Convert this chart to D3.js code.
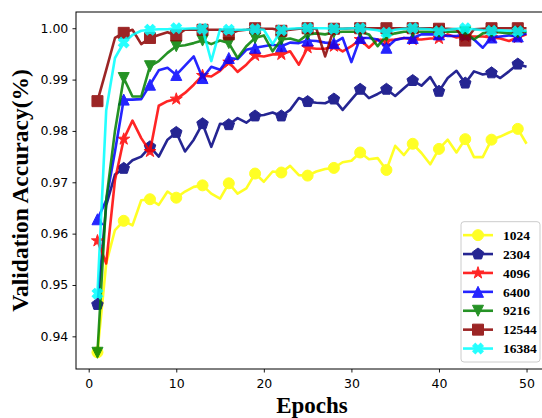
<!DOCTYPE html>
<html>
<head>
<meta charset="utf-8">
<script src="https://cdn.jsdelivr.net/npm/d3@7"></script>
<style>
  html, body { margin:0; padding:0; background:#fff; }
  svg { display:block; }
  .tick text { font-family: "DejaVu Sans", sans-serif; font-size: 12.5px; fill:#000; }
  .axis-label { font-family: "Liberation Serif", "Times New Roman", serif; font-weight: bold; fill:#000; }
  .legend text { font-family: "Liberation Serif", "Times New Roman", serif; font-weight: bold; font-size: 13.5px; fill:#000; }
</style>
</head>
<body>
<div id="chart"></div>
<script>
// epochs 1..50
const epochs = d3.range(1, 51);
const seriesNames = ['1024', '2304', '4096', '6400', '9216', '12544', '16384'];
const xTicks = [0, 10, 20, 30, 40, 50];
const yTicks = [0.94, 0.95, 0.96, 0.97, 0.98, 0.99, 1.00];

const acc1024 = [0.9369, 0.9542, 0.9607, 0.9625, 0.9616, 0.9665, 0.9667, 0.9656, 0.9682, 0.9670,
                 0.9682, 0.9691, 0.9694, 0.9678, 0.9668, 0.9698, 0.9678, 0.9688, 0.9717, 0.9701,
                 0.9721, 0.9719, 0.9732, 0.9714, 0.9713, 0.9721, 0.9726, 0.9728, 0.9739, 0.9742,
                 0.9758, 0.9745, 0.9747, 0.9724, 0.9771, 0.9753, 0.9775, 0.9757, 0.9735, 0.9765,
                 0.9783, 0.9758, 0.9784, 0.9749, 0.9749, 0.9783, 0.9789, 0.9797, 0.9804, 0.9775];
const acc2304 = [0.9462, 0.9655, 0.9715, 0.9727, 0.9743, 0.9750, 0.9769, 0.9750, 0.9783, 0.9797,
                 0.9760, 0.9783, 0.9814, 0.9769, 0.9814, 0.9812, 0.9825, 0.9816, 0.9829, 0.9831,
                 0.9836, 0.9829, 0.9841, 0.9864, 0.9857, 0.9855, 0.9854, 0.9862, 0.9841, 0.9861,
                 0.9881, 0.9864, 0.9872, 0.9881, 0.9868, 0.9883, 0.9898, 0.9888, 0.9905, 0.9877,
                 0.9903, 0.9917, 0.9893, 0.9916, 0.9910, 0.9913, 0.9903, 0.9916, 0.9930, 0.9925];
const acc4096 = [0.9586, 0.9542, 0.9704, 0.9784, 0.9820, 0.9786, 0.9760, 0.9849, 0.9858, 0.9862,
                 0.9874, 0.9890, 0.9908, 0.9906, 0.9917, 0.9934, 0.9915, 0.9929, 0.9947, 0.9945,
                 0.9949, 0.9949, 0.9955, 0.9929, 0.9962, 0.9960, 0.9960, 0.9965, 0.9955, 0.9965,
                 0.9978, 0.9962, 0.9978, 0.9975, 0.9978, 0.9981, 0.9978, 0.9978, 0.9980, 0.9980,
                 0.9988, 0.9982, 0.9984, 0.9984, 0.9984, 0.9982, 0.9980, 0.9975, 0.9982, 0.9988];
const acc6400 = [0.9628, 0.9665, 0.9760, 0.9861, 0.9861, 0.9862, 0.9890, 0.9918, 0.9923, 0.9909,
                 0.9927, 0.9945, 0.9903, 0.9925, 0.9919, 0.9942, 0.9940, 0.9958, 0.9962, 0.9965,
                 0.9968, 0.9965, 0.9972, 0.9971, 0.9976, 0.9975, 0.9972, 0.9971, 0.9981, 0.9934,
                 0.9981, 0.9981, 0.9978, 0.9962, 0.9977, 0.9981, 0.9981, 0.9988, 0.9988, 0.9988,
                 0.9985, 0.9985, 0.9988, 0.9978, 0.9962, 0.9982, 0.9984, 0.9986, 0.9984, 0.9990];
const acc9216 = [0.9368, 0.9665, 0.9800, 0.9903, 0.9867, 0.9867, 0.9926, 0.9936, 0.9952, 0.9965,
                 0.9967, 0.9971, 0.9976, 0.9969, 0.9976, 0.9971, 0.9942, 0.9965, 0.9981, 0.9986,
                 0.9955, 0.9978, 0.9980, 0.9975, 0.9988, 0.9990, 0.9988, 0.9992, 0.9993, 0.9993,
                 0.9993, 0.9988, 0.9965, 0.9985, 0.9990, 0.9993, 0.9993, 0.9993, 0.9993, 0.9993,
                 0.9993, 0.9993, 0.9992, 0.9978, 0.9990, 0.9993, 0.9992, 0.9990, 0.9992, 0.9993];
const acc12544 = [0.9858, 0.9919, 0.9981, 0.9991, 0.9997, 0.9969, 0.9981, 0.9987, 0.9992, 0.9986,
                  0.9997, 0.9997, 0.9997, 0.9997, 0.9997, 0.9988, 0.9995, 0.9997, 1.0000, 0.9999,
                  0.9999, 0.9995, 0.9997, 0.9999, 1.0000, 0.9999, 0.9945, 0.9999, 0.9999, 1.0000,
                  1.0000, 1.0000, 1.0000, 1.0000, 1.0000, 1.0000, 1.0000, 1.0000, 1.0000, 0.9999,
                  0.9999, 0.9998, 0.9976, 0.9998, 0.9999, 1.0000, 1.0000, 1.0000, 1.0000, 1.0000];
const acc16384 = [0.9483, 0.9840, 0.9942, 0.9972, 0.9987, 0.9995, 0.9997, 0.9998, 0.9998, 1.0000,
                  0.9999, 1.0000, 0.9999, 0.9936, 0.9998, 0.9997, 0.9997, 0.9997, 0.9998, 0.9997,
                  0.9969, 0.9996, 0.9999, 1.0000, 1.0000, 1.0000, 1.0000, 0.9999, 0.9999, 1.0000,
                  1.0000, 0.9998, 0.9996, 0.9991, 0.9997, 0.9999, 1.0000, 0.9999, 0.9998, 0.9994,
                  0.9997, 0.9999, 1.0000, 0.9998, 0.9996, 0.9995, 0.9996, 0.9995, 0.9994, 0.9995];

const seriesValues = [acc1024, acc2304, acc4096, acc6400, acc9216, acc12544, acc16384];

const colors = ['#ffff00', '#000080', '#ff0000', '#0000ff', '#008000', '#8b0000', '#00ffff'];
const shapes = ['circle', 'pentagon', 'star', 'triangleUp', 'triangleDown', 'square', 'x'];

const W = 542, H = 418;
const margin = {left: 76, top: 12, right: 548, bottom: 369};

const svg = d3.select('#chart').append('svg').attr('width', W).attr('height', H);

// matplotlib style 5% padding around the data
const xExt = d3.extent(epochs);
const xPad = (xExt[1] - xExt[0]) * 0.05;
const yExt = d3.extent(seriesValues.flat());
const yPad = (yExt[1] - yExt[0]) * 0.05;

const x = d3.scaleLinear().domain([xExt[0] - xPad, xExt[1] + xPad]).range([margin.left, margin.right]);
const y = d3.scaleLinear().domain([yExt[0] - yPad, yExt[1] + yPad]).range([margin.bottom, margin.top]);

// marker path builder, m = marker size in px
const markerPath = (shape, m)=>{
    const r = m / 2;
    switch(shape){
        case 'circle': return d3.symbol(d3.symbolCircle, Math.PI * r * r)();
        case 'square': return `M${-r},${-r}H${r}V${r}H${-r}Z`;
        case 'triangleUp': return `M0,${-r}L${r},${r}L${-r},${r}Z`;
        case 'triangleDown': return `M0,${r}L${r},${-r}L${-r},${-r}Z`;
        case 'star': return d3.symbol(d3.symbolStar, (r * 1.15) * (r * 1.15) / 0.8908)();
        case 'pentagon': {
            const pts = d3.range(5).map(k=>{
                const a = -Math.PI / 2 + k * 2 * Math.PI / 5;
                return [r * 1.1 * Math.cos(a), r * 1.1 * Math.sin(a)];
            });
            return 'M' + pts.map(p=>p.join(',')).join('L') + 'Z';
        }
        case 'x': return d3.symbol(d3.symbolCross, 70)();
    }
};

svg.append('clipPath').attr('id', 'plot-clip')
    .append('rect').attr('x', margin.left).attr('y', margin.top)
    .attr('width', margin.right - margin.left).attr('height', margin.bottom - margin.top);

const plot = svg.append('g').attr('clip-path', 'url(#plot-clip)');

const line = d3.line().x((d, i)=>x(epochs[i])).y(d=>y(d));

seriesValues.forEach((vals, si)=>{
    const g = plot.append('g').attr('opacity', 0.85);
    g.append('path')
        .datum(vals)
        .attr('d', line)
        .attr('fill', 'none')
        .attr('stroke', colors[si])
        .attr('stroke-width', 2.6)
        .attr('stroke-linejoin', 'round');

    // marker on every 3rd epoch
    const marks = vals.map((v, i)=>({e: epochs[i], v: v})).filter((d, i)=>i % 3 === 0);
    g.selectAll('path.mk')
        .data(marks)
        .enter()
        .append('path')
        .attr('class', 'mk')
        .attr('d', markerPath(shapes[si], 11))
        .attr('transform', d=>`translate(${x(d.e)},${y(d.v)})` + (shapes[si] === 'x' ? ' rotate(45)' : ''))
        .attr('fill', colors[si])
        .attr('stroke', colors[si])
        .attr('stroke-width', 1);
});

// axes
const xAxis = svg.append('g')
    .attr('transform', `translate(0,${margin.bottom})`)
    .call(d3.axisBottom(x).tickValues(xTicks).tickFormat(d3.format('d')).tickSize(3.5).tickPadding(7).tickSizeOuter(0));
const yAxis = svg.append('g')
    .attr('transform', `translate(${margin.left},0)`)
    .call(d3.axisLeft(y).tickValues(yTicks).tickFormat(d3.format('.2f')).tickSize(3.5).tickPadding(4.2).tickSizeOuter(0));

[xAxis, yAxis].forEach(ax=>{
    ax.select('.domain').remove();
    ax.selectAll('.tick line').attr('stroke', '#000').attr('stroke-width', 0.9);
    ax.selectAll('.tick text').attr('font-family', null).attr('font-size', null);
});

// frame
svg.append('rect')
    .attr('x', margin.left).attr('y', margin.top)
    .attr('width', margin.right - margin.left).attr('height', margin.bottom - margin.top)
    .attr('fill', 'none').attr('stroke', '#000').attr('stroke-width', 1);

// axis labels
svg.append('text')
    .attr('class', 'axis-label')
    .attr('x', (margin.left + margin.right) / 2)
    .attr('y', 413)
    .attr('text-anchor', 'middle')
    .style('font-size', '23px')
    .text('Epochs');

svg.append('text')
    .attr('class', 'axis-label')
    .attr('transform', `translate(28,${(margin.top + margin.bottom) / 2}) rotate(-90)`)
    .attr('text-anchor', 'middle')
    .style('font-size', '23.5px')
    .text('Validation Accuracy(%)');

// legend
const rowH = 18.9;
const legBottom = 362;
const legTop = legBottom - seriesNames.length * rowH - 8;
const legend = svg.append('g').attr('class', 'legend');
legend.append('rect')
    .attr('x', 461).attr('y', legTop)
    .attr('width', 79).attr('height', legBottom - legTop)
    .attr('rx', 3)
    .attr('fill', '#fff').attr('fill-opacity', 0.85)
    .attr('stroke', '#cccccc').attr('stroke-width', 1);

seriesNames.forEach((name, si)=>{
    const cy = legTop + 4 + rowH * (si + 0.5);
    const row = legend.append('g');
    const g = row.append('g').attr('opacity', 0.85);
    g.append('line')
        .attr('x1', 463).attr('x2', 493).attr('y1', cy).attr('y2', cy)
        .attr('stroke', colors[si]).attr('stroke-width', 2.6);
    g.append('path')
        .attr('d', markerPath(shapes[si], 11))
        .attr('transform', `translate(478,${cy})` + (shapes[si] === 'x' ? ' rotate(45)' : ''))
        .attr('fill', colors[si]).attr('stroke', colors[si]).attr('stroke-width', 1);
    row.append('text')
        .attr('x', 503).attr('y', cy + 4.7)
        .text(name);
});
</script>
</body>
</html>
